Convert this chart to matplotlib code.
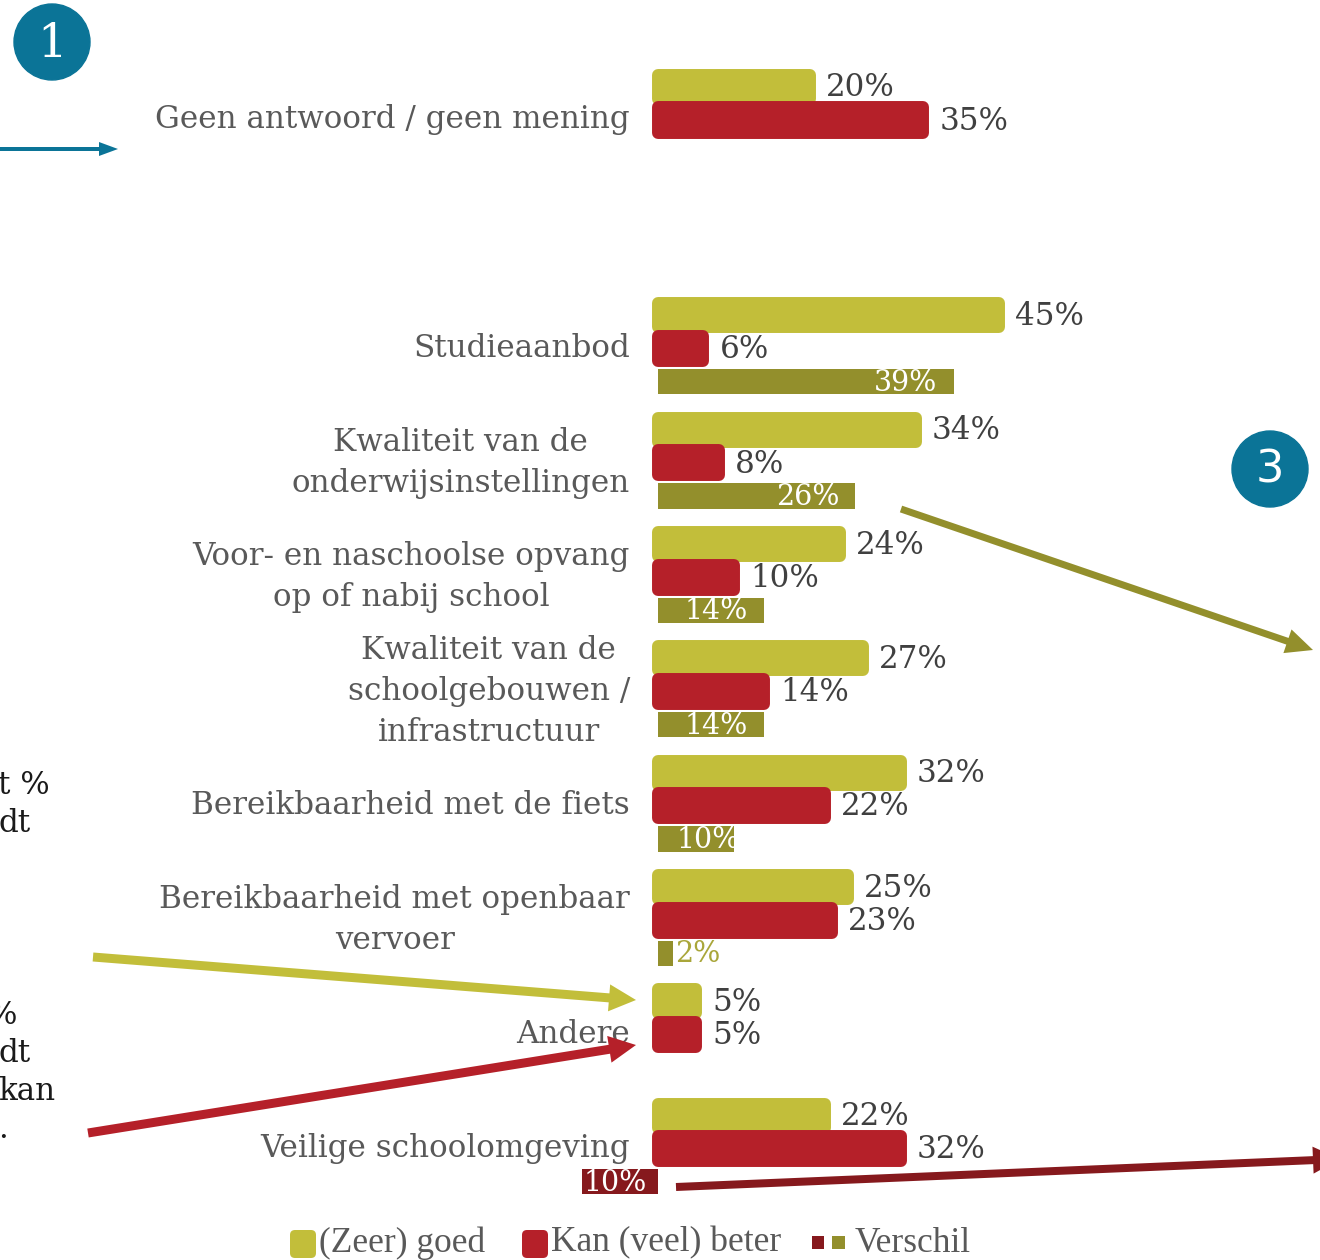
import matplotlib.pyplot as plt
from matplotlib.patches import Circle, FancyArrow, FancyBboxPatch, Rectangle
import numpy as np

# data
categories = [
    "Geen antwoord / geen mening",
    "Studieaanbod",
    "Kwaliteit van de\nonderwijsinstellingen",
    "Voor- en naschoolse opvang\nop of nabij school",
    "Kwaliteit van de\nschoolgebouwen /\ninfrastructuur",
    "Bereikbaarheid met de fiets",
    "Bereikbaarheid met openbaar\nvervoer",
    "Andere",
    "Veilige schoolomgeving",
]
goed = [20, 45, 34, 24, 27, 32, 25, 5, 22]
beter = [35, 6, 8, 10, 14, 22, 23, 5, 32]
verschil = [None, 39, 26, 14, 14, 10, 2, None, -10]
legend_labels = ["(Zeer) goed", "Kan (veel) beter", "Verschil"]

YEL = "#C2BE3A"
RED = "#B52029"
OLIVE = "#938F2C"
DRED = "#86191D"
TEAL = "#0B7497"
GREY = "#595959"
DARK = "#404040"

PX = 7.58      # pixels per percent
SLOT = 114.3   # pixels per category slot
FS = 22.3      # ~31 px
SERIF = "DejaVu Serif"

fig = plt.figure(figsize=(13.2, 12.6), dpi=100)
ax = fig.add_axes([0, 0, 1, 1])
ax.set_xlim(-658 / PX, (1320 - 658) / PX)
ax.set_ylim((1260 - 120) / SLOT, -120 / SLOT)
ax.axis("off")

# empty slot after the first category
slots = np.arange(len(categories), dtype=float)
slots[1:] += 1

ax.barh(slots - 0.29, goed, height=0.21, color=YEL, edgecolor=YEL,
        linewidth=8.6, joinstyle="round", zorder=2)
ax.barh(slots, beter, height=0.22, color=RED, edgecolor=RED,
        linewidth=8.6, joinstyle="round", zorder=3)

for y, g, b in zip(slots, goed, beter):
    ax.text(g + 16 / PX, y - 0.28, f"{g}%", va="center", ha="left",
            fontsize=FS, family=SERIF, color=DARK, zorder=4)
    ax.text(b + 16 / PX, y + 0.01, f"{b}%", va="center", ha="left",
            fontsize=FS, family=SERIF, color=DARK, zorder=4)

for y, d in zip(slots, verschil):
    if d is None:
        continue
    col = OLIVE if d > 0 else DRED
    ax.barh(y + 0.29, d, height=0.22, color=col, zorder=2)
    if d < 0:
        ax.text(d + 1 / PX, y + 0.3, f"{abs(d)}%", va="center", ha="left",
                fontsize=FS * 0.92, family=SERIF, color="white", zorder=4)
    elif d * PX < 40:
        ax.text(d + 2 / PX, y + 0.3, f"{d}%", va="center", ha="left",
                fontsize=FS * 0.92, family=SERIF, color="#A9A63A", zorder=4)
    elif d * PX < 90:
        ax.text(19 / PX, y + 0.3, f"{d}%", va="center", ha="left",
                fontsize=FS * 0.92, family=SERIF, color="white", zorder=4)
    else:
        ax.text(d - 16 / PX, y + 0.3, f"{d}%", va="center", ha="right",
                fontsize=FS * 0.92, family=SERIF, color="white", zorder=4)

for y, c in zip(slots, categories):
    ax.text(-28 / PX, y, c, ha="right", va="center", multialignment="center",
            linespacing=1.42, fontsize=FS, family=SERIF, color=GREY)

# overlay in pixel units for the slide decorations
ov = fig.add_axes([0, 0, 1, 1])
ov.set_xlim(0, 1320)
ov.set_ylim(1260, 0)
ov.axis("off")
ov.patch.set_visible(False)
ov.set_zorder(5)

arrows = [
    ((0, 149), (118, 149), 4, 14, 19, TEAL),
    ((93, 957), (636, 1000), 9, 27, 27, YEL),
    ((88, 1133), (636, 1045), 9, 27, 27, RED),
    ((901, 509), (1313, 650), 7, 25, 27, OLIVE),
    ((676, 1187), (1340, 1159), 8, 27, 27, DRED),
]
for (x0, y0), (x1, y1), w, hw, hl, c in arrows:
    ov.add_patch(FancyArrow(x0, y0, x1 - x0, y1 - y0, width=w, head_width=hw,
                            head_length=hl, length_includes_head=True,
                            color=c, linewidth=0))

ov.add_patch(Circle((52, 42), 38, color=TEAL))
ov.text(52, 44, "1", ha="center", va="center", color="white",
        fontsize=FS * 1.5, family=SERIF)
ov.add_patch(Circle((1270, 469), 38, color=TEAL))
ov.text(1270, 470, "3", ha="center", va="center", color="white",
        fontsize=FS * 1.45, family="DejaVu Sans")

# cut-off text from the slide's left column
for x, y, s in [(-2, 785, "t %"), (-2, 823, "dt"), (-13, 1015, "%"),
                (-2, 1053, "dt"), (-2, 1092, "kan"), (-2, 1130, ".")]:
    ov.text(x, y, s, ha="left", va="center", fontsize=FS, family=SERIF,
            color="#1A1A1A")

# legend
LFS = 25.5
ov.add_patch(FancyBboxPatch((292, 1232), 22, 24, boxstyle="round,pad=2,rounding_size=5",
                            color=YEL, linewidth=0))
ov.text(319, 1243, legend_labels[0], ha="left", va="center", fontsize=LFS,
        family="Liberation Serif", color=GREY)
ov.add_patch(FancyBboxPatch((524, 1232), 22, 24, boxstyle="round,pad=2,rounding_size=5",
                            color=RED, linewidth=0))
ov.text(551, 1243, legend_labels[1], ha="left", va="center", fontsize=LFS,
        family="Liberation Serif", color=GREY)
ov.add_patch(Rectangle((812, 1236), 12, 13, color=DRED, linewidth=0))
ov.add_patch(Rectangle((832, 1236), 13, 13, color=OLIVE, linewidth=0))
ov.text(855, 1243, legend_labels[2], ha="left", va="center", fontsize=LFS,
        family="Liberation Serif", color=GREY)

fig.savefig("out.png", dpi=100, facecolor="white")
